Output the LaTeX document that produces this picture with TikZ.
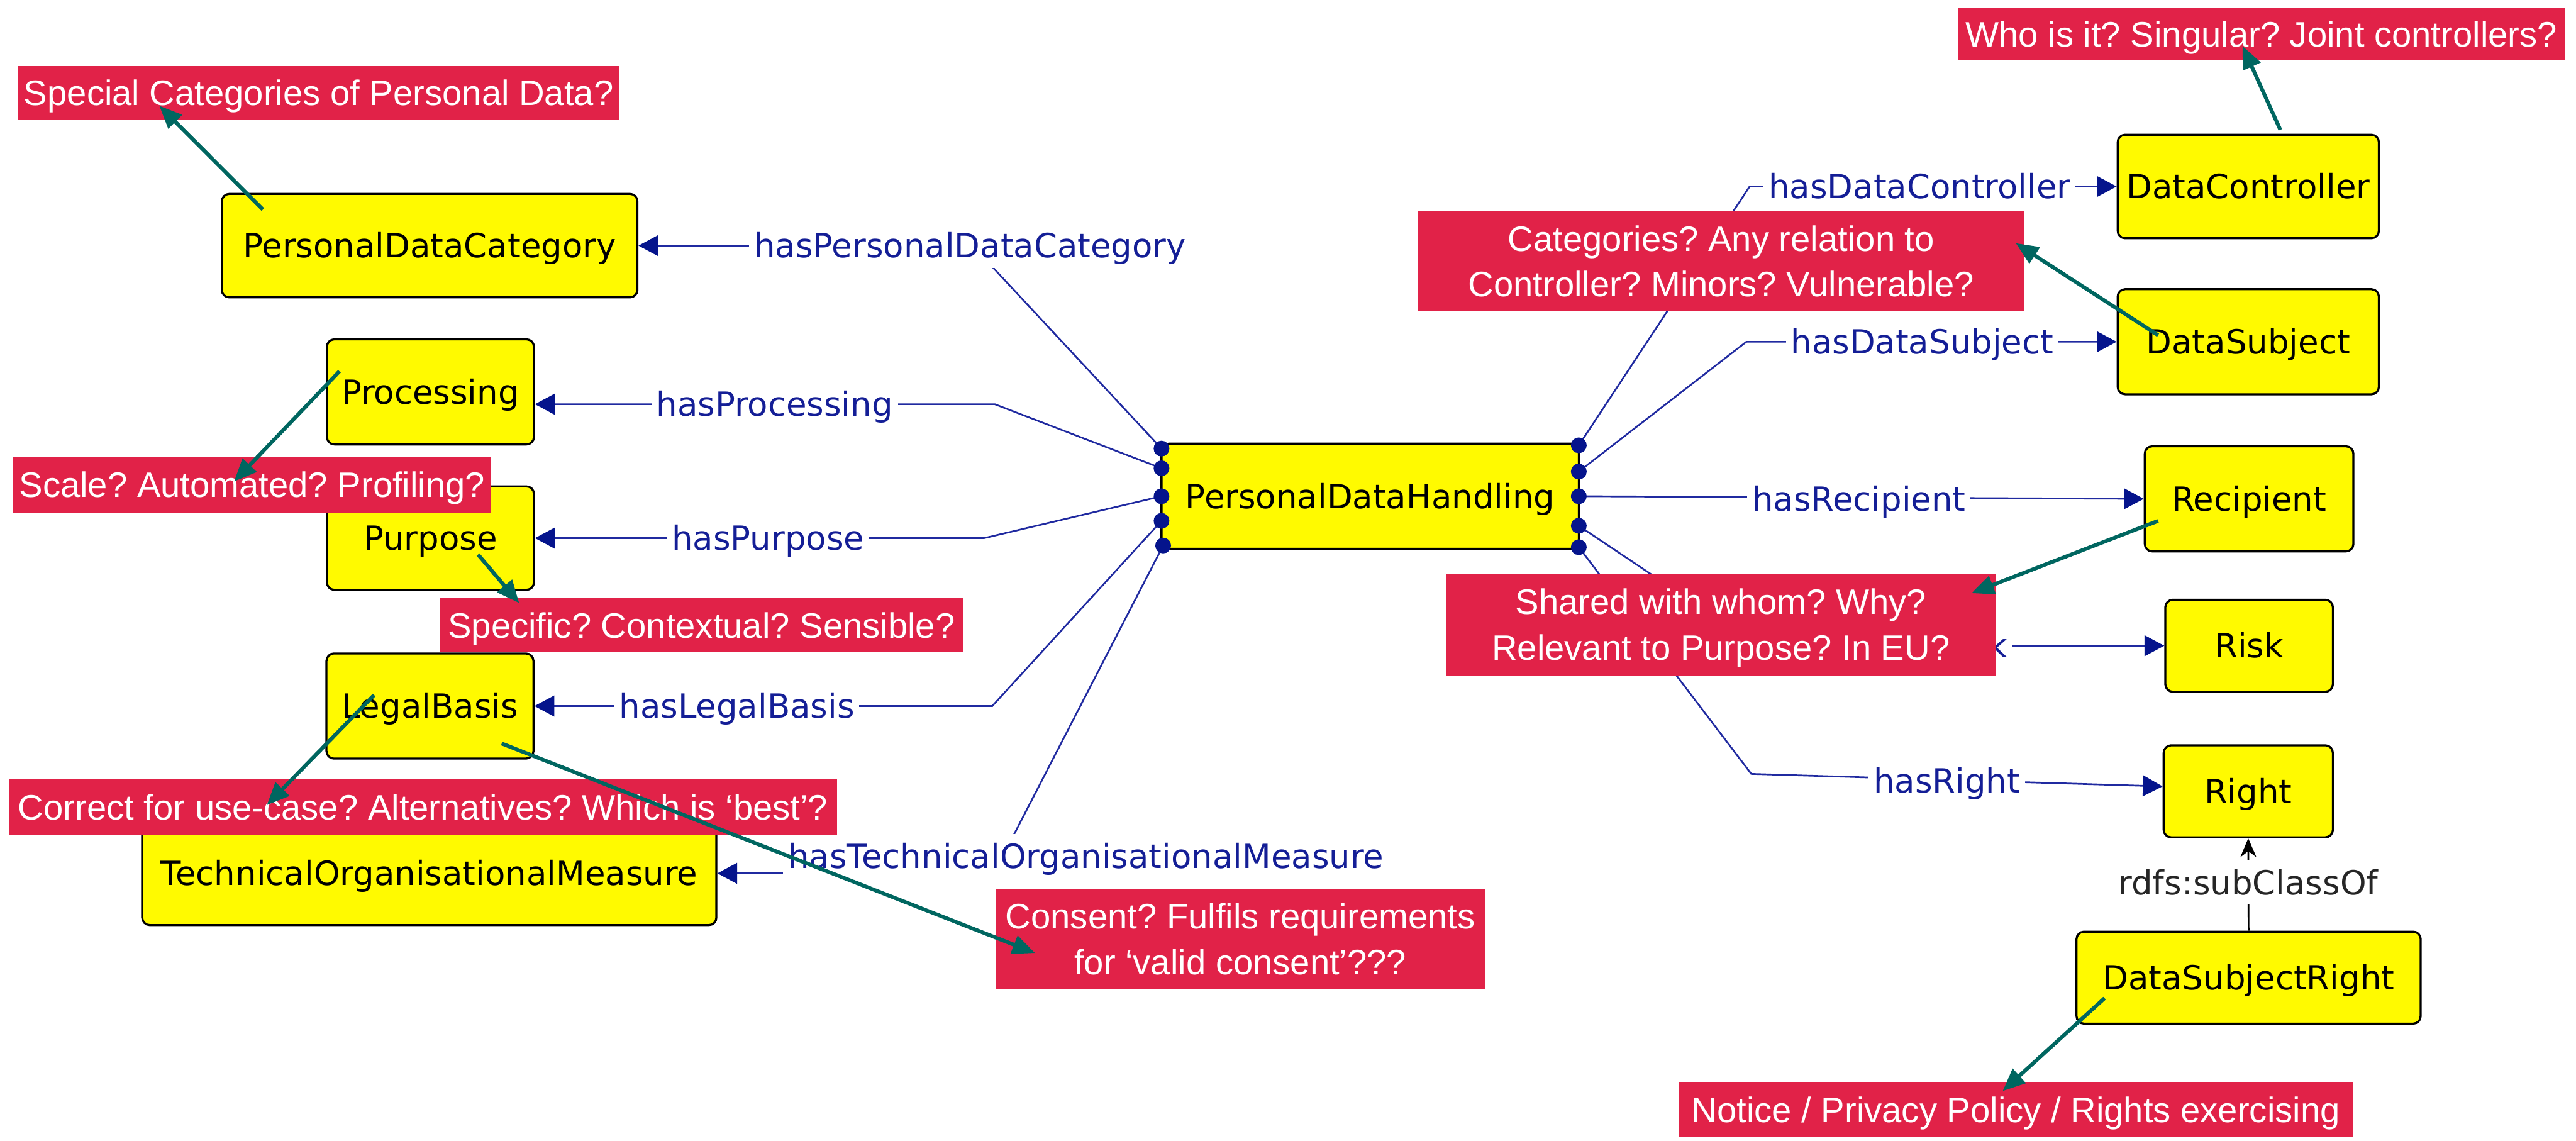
\documentclass[tikz,border=0pt]{standalone}
\usepackage{fontspec}
\usetikzlibrary{arrows.meta,calc}
\newfontfamily\dvsans{DejaVu Sans}
\newfontfamily\lbsans{Liberation Sans}
\frenchspacing
\newlength\pxu
\setlength\pxu{0.030702cm}
\definecolor{clsyellow}{RGB}{255,250,0}
\definecolor{notered}{RGB}{225,34,72}
\definecolor{noteteal}{RGB}{0,102,96}
\definecolor{edgeline}{RGB}{32,42,160}
\definecolor{edgehead}{RGB}{5,20,140}
\definecolor{edgetext}{RGB}{20,30,150}
\tikzset{
  cls/.style={draw=black, line width=1.1pt, fill=clsyellow, rounded corners=4pt, inner sep=0pt,
    font=\dvsans\fontsize{17.7}{21}\selectfont, text height=12.9pt, text depth=0pt},
  note/.style={fill=notered, text=white, align=center, inner sep=0pt,
    font=\lbsans\fontsize{18.8}{24.2}\selectfont, text height=13.5pt, text depth=0pt},
  notetwo/.style={note, text height=37.7pt, text depth=0pt},
  prop/.style={draw=edgeline, line width=0.9pt, -{Triangle[length=10.5pt,width=11pt,color=edgehead]}},
  elabel/.style={fill=white, text=edgetext, inner xsep=3\pxu, inner ysep=6\pxu,
    font=\dvsans\fontsize{17.7}{21}\selectfont, text height=12.9pt, text depth=0pt},
  sublabel/.style={elabel, text=black!85},
  subarrow/.style={draw=black, line width=0.9pt, -{Stealth[length=10pt,width=8.5pt]}},
  callout/.style={draw=noteteal, line width=2pt, -{Triangle[length=12pt,width=10pt]}},
  port/.style={fill=edgehead},
}
\begin{document}
\begin{tikzpicture}[x=0.030702cm, y=-0.030702cm]
\fill[white] (0,0) rectangle (1568,694.4);
\useasboundingbox (0,0) rectangle (1568,694.4);

% classes
\node[cls, minimum width=253\pxu, minimum height=63\pxu] (pdc) at (261.5,149.5) {PersonalDataCategory};
\node[cls, minimum width=126\pxu, minimum height=64\pxu] (proc) at (262,238.5) {Processing};
\node[cls, minimum width=126\pxu, minimum height=63\pxu] (purp) at (262,327.5) {Purpose};
\node[cls, minimum width=126\pxu, minimum height=64\pxu] (legal) at (261.7,429.7) {LegalBasis};
\node[cls, minimum width=349.5\pxu, minimum height=63\pxu] (tom) at (261.3,531.5) {TechnicalOrganisationalMeasure};
\node[cls, minimum width=254\pxu, minimum height=64\pxu] (pdh) at (834,302) {PersonalDataHandling};
\node[cls, minimum width=159\pxu, minimum height=63\pxu] (dc) at (1368.5,113.5) {DataController};
\node[cls, minimum width=159\pxu, minimum height=64\pxu] (ds) at (1368.5,208) {DataSubject};
\node[cls, minimum width=127\pxu, minimum height=64\pxu] (rec) at (1369,303.6) {Recipient};
\node[cls, minimum width=102\pxu, minimum height=56\pxu] (risk) at (1369,393) {Risk};
\node[cls, minimum width=103\pxu, minimum height=56\pxu] (right) at (1368.5,481.6) {Right};
\node[cls, minimum width=209.5\pxu, minimum height=56\pxu] (dsr) at (1368.7,595) {DataSubjectRight};

% property ports on PersonalDataHandling
\coordinate (pl1) at (707,273);
\coordinate (pl2) at (707,285);
\coordinate (pl3) at (707,302);
\coordinate (pl4) at (707,317);
\coordinate (pl5) at (708,332);
\coordinate (pr1) at (961,271);
\coordinate (pr2) at (961,287);
\coordinate (pr3) at (961,302);
\coordinate (pr4) at (961,320);
\coordinate (pr5) at (961,333);

% object properties
\draw[prop] (pl1) -- (592,149.5) -- (pdc.east);
\draw[prop] (pl2) -- (605.5,246) -- ($(proc.east)+(0,7.5)$);
\draw[prop] (pl3) -- (599,327.5) -- (purp.east);
\draw[prop] (pl4) -- (604,429.7) -- (legal.east);
\draw[prop] (pl5) -- (605,531.5) -- (tom.east);
\draw[prop] (pr1) -- (1065,113.5) -- (dc.west);
\draw[prop] (pr2) -- (1063,208) -- (ds.west);
\draw[prop] (pr3) -- (rec.west);
\draw[prop] (pr4) -- (1070,393) -- (risk.west);
\draw[prop] (pr5) -- (1066,471) -- ($(right.west)+(0,-3)$);
\draw[subarrow] (dsr.north) -- (right.south);

% property labels
\node[elabel] (lpdc) at (590.5,149.5) {hasPersonalDataCategory};
\node[elabel] (lproc) at (471.5,246) {hasProcessing};
\node[elabel] (lpurp) at (467.5,327.5) {hasPurpose};
\node[elabel] (llegal) at (448.5,429.7) {hasLegalBasis};
\node[elabel] (ltom) at (661,521) {hasTechnicalOrganisationalMeasure};
\node[elabel] (ldc) at (1168.5,113.5) {hasDataController};
\node[elabel] (lds) at (1170,208) {hasDataSubject};
\node[elabel] (lrec) at (1131.5,303.8) {hasRecipient};
\node[elabel] (lrisk) at (1183,393) {hasRisk};
\node[elabel] (lright) at (1185,475) {hasRight};
\node[sublabel] (lsub) at (1368.5,537) {rdfs:subClassOf};

\foreach \p in {pl1,pl2,pl3,pl4,pl5,pr1,pr2,pr3,pr4,pr5}
  \fill[port] (\p) circle[radius=4.8];

% review questions
\node[note, minimum width=366\pxu, minimum height=32.5\pxu] (qspecial) at (194,56.5) {Special Categories of Personal Data?};
\node[note, minimum width=291\pxu, minimum height=34\pxu] (qscale) at (153.5,295) {Scale? Automated? Profiling?};
\node[note, minimum width=318\pxu, minimum height=33\pxu] (qspecific) at (427,380.5) {Specific? Contextual? Sensible?};
\node[note, minimum width=504\pxu, minimum height=34.5\pxu] (qcorrect) at (257.5,491.2) {Correct for use-case? Alternatives? Which is ‘best’?};
\node[notetwo, minimum width=298\pxu, minimum height=61\pxu] (qconsent) at (755,571.5) {Consent? Fulfils requirements\\for ‘valid consent’???};
\node[notetwo, minimum width=369.4\pxu, minimum height=60.7\pxu] (qcat) at (1047.7,159) {Categories? Any relation to\\Controller? Minors? Vulnerable?};
\node[notetwo, minimum width=335\pxu, minimum height=62\pxu] (qshared) at (1047.5,380) {Shared with whom? Why?\\Relevant to Purpose? In EU?};
\node[note, minimum width=370\pxu, minimum height=32.2\pxu] (qwho) at (1376.5,20.8) {Who is it? Singular? Joint controllers?};
\node[note, minimum width=410.5\pxu, minimum height=33.5\pxu] (qnotice) at (1227,675.2) {Notice / Privacy Policy / Rights exercising};

% callout anchors
\coordinate (a1) at (160,127.5);    \coordinate (b1) at (97,64.4);
\coordinate (a2) at (206.6,226);    \coordinate (b2) at (142.5,293);
\coordinate (a3) at (291,337.5);    \coordinate (b3) at (316,367);
\coordinate (a4) at (227.7,423);    \coordinate (b4) at (162.4,490);
\coordinate (a5) at (305.4,452.5);  \coordinate (b5) at (630,580);
\coordinate (a6) at (1388,79);      \coordinate (b6) at (1365,28);
\coordinate (a7) at (1313.6,204);   \coordinate (b7) at (1227,148);
\coordinate (a8) at (1313.6,317);   \coordinate (b8) at (1200,361);
\coordinate (a9) at (1281,607.5);   \coordinate (b9) at (1219,664);

\foreach \i in {1,...,9}
  \draw[callout] (a\i) -- (b\i);
\end{tikzpicture}
\end{document}
